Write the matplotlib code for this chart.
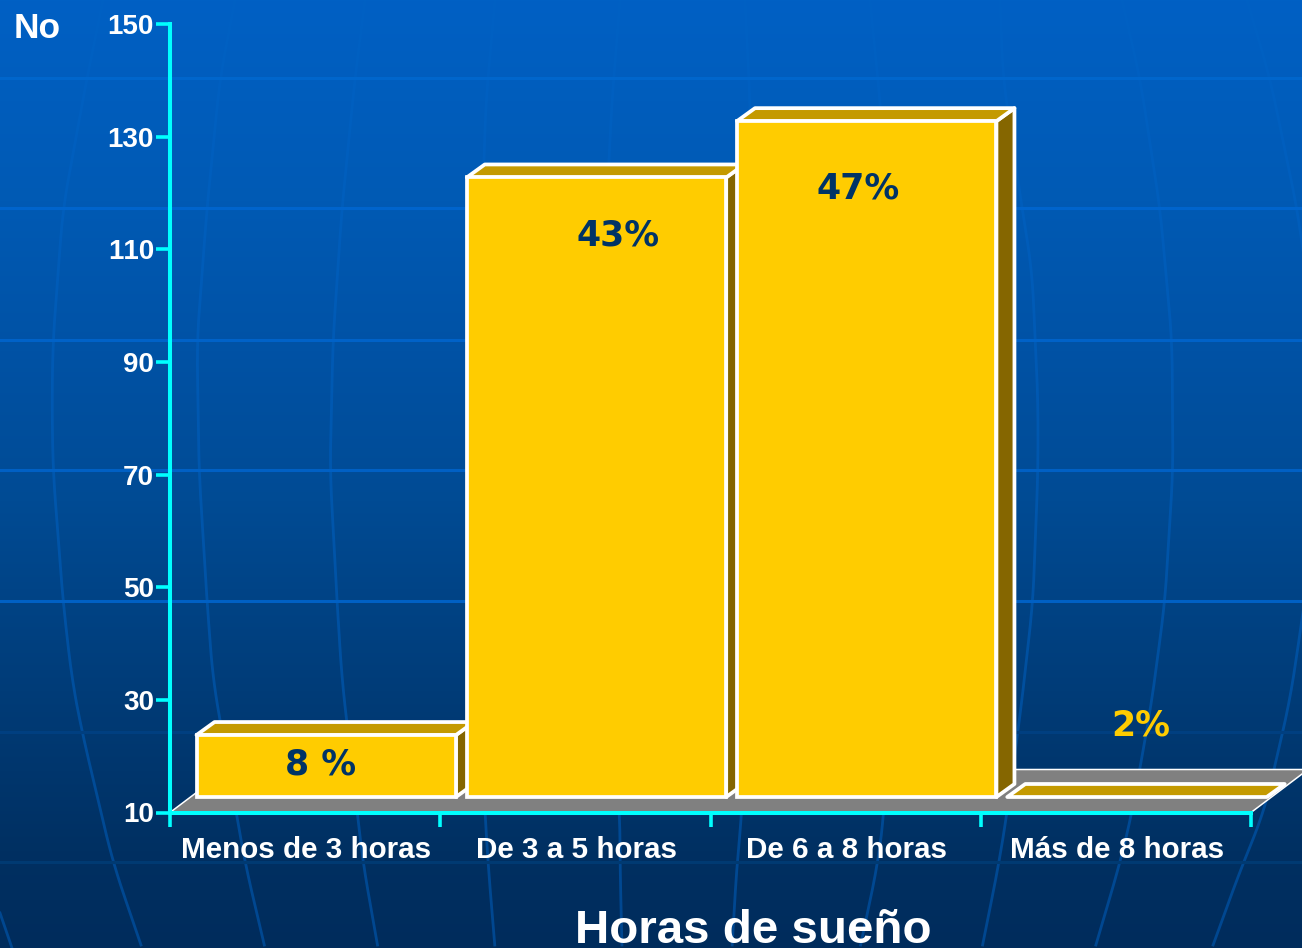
import numpy as np
import matplotlib
matplotlib.use("Agg")
import matplotlib.pyplot as plt
from matplotlib.patches import Polygon
from matplotlib.transforms import Affine2D

plt.rcParams["text.kerning_factor"] = 8

# ---- data ----
categories = ["Menos de 3 horas", "De 3 a 5 horas", "De 6 a 8 horas", "Más de 8 horas"]
counts = [21, 120, 130, 6]
percent_labels = ["8 %", "43%", "47%", "2%"]
y_ticks = [10, 30, 50, 70, 90, 110, 130, 150]

# ---- style / layout (pixels) ----
W, H = 1302, 948
AX_L, AX_R, AX_B, AX_T = 170, 1251, 812.5, 24
Y_MIN, Y_MAX = 10, 150
BAR_W = 0.96
BAR_DX, BAR_DY = 21.1, 15.5
DEPTH_X, DEPTH_Y = 18, 13
FLOOR_X, FLOOR_Y = 57, 43
label_px = [(15, -14), (43, -43), (12, -52), (25, 87)]
label_colors = ["#003366", "#003366", "#003366", "#ffcc00"]
label_size = [25, 25, 25, 25]

FACE, TOP, SIDE = "#ffcc00", "#c49a00", "#856600"
CYAN = "#00ffff"
SANS = ["Liberation Sans", "DejaVu Sans"]

fig = plt.figure(figsize=(W / 100, H / 100), dpi=100)

# ---- background ----
bg = fig.add_axes([0, 0, 1, 1], zorder=0)
bg.axis("off")
ys = np.arange(H)
stops_y = [0, 200, 350, 500, 690, 850, 948]
r = np.zeros(H)
g = np.interp(ys, stops_y, [96, 90, 82, 75, 60, 48, 44]) / 255
b = np.interp(ys, stops_y, [196, 180, 165, 148, 120, 98, 92]) / 255
bg.imshow(np.stack([r, g, b], axis=-1)[:, None, :], extent=(0, W, H, 0), aspect="auto", zorder=0)
bg.set_xlim(0, W)
bg.set_ylim(H, 0)

merid = [
    [(103, 0), (87, 78), (63, 208), (53, 340), (52, 400), (53, 470), (63, 601), (72, 680), (82, 732), (113, 863), (142, 948)],
    [(235, 0), (220, 78), (207, 208), (197, 340), (199, 470), (207, 601), (213, 680), (245, 863), (265, 948)],
    [(365, 0), (355, 78), (342, 208), (333, 340), (330, 470), (337, 601), (342, 680), (363, 863), (378, 948)],
    [(495, 0), (486, 100), (478, 340), (478, 470), (480, 700), (485, 813), (488, 863), (495, 948)],
    [(620, 0), (612, 100), (600, 340), (600, 470), (608, 700), (620, 813), (620, 863), (622, 948)],
    [(745, 0), (750, 100), (752, 340), (750, 500), (745, 700), (742, 813), (737, 863), (732, 948)],
    [(870, 0), (880, 100), (895, 340), (895, 470), (890, 700), (884, 813), (878, 863), (860, 948)],
    [(1000, 0), (1003, 78), (1022, 208), (1032, 270), (1038, 400), (1038, 470), (1033, 601), (1022, 700), (1007, 813), (999, 863), (982, 948)],
    [(1122, 0), (1140, 78), (1160, 208), (1172, 340), (1173, 470), (1165, 601), (1152, 700), (1132, 813), (1120, 863), (1095, 948)],
    [(1247, 0), (1270, 78), (1297, 208), (1310, 300), (1310, 560), (1302, 620), (1290, 700), (1264, 813), (1243, 863), (1212, 948)],
    [(0, 913), (12, 948)],
]


def smooth(points, win=13):
    """Soften a hand-traced background meridian."""
    px, py = map(np.array, zip(*points))
    yy = np.arange(py[0], py[-1] + 1, 5.0)
    xx = np.interp(yy, py, px)
    if len(xx) <= win:
        return xx, yy
    pad = win // 2
    k = np.ones(win) / win
    head = 2 * xx[0] - xx[pad:0:-1]
    tail = 2 * xx[-1] - xx[-2:-pad - 2:-1]
    return np.convolve(np.r_[head, xx, tail], k, mode="valid"), yy


for m in merid:
    mx, my = smooth(m)
    bg.plot(mx, my, color="#0062c4", alpha=0.5, lw=2.0, zorder=1, solid_joinstyle="round")
grid_y = [78, 208, 340, 470, 601, 732, 862]
grid_c = ["#0066cc", "#0064cc", "#0062c8", "#0060c4", "#0060c4", "#003f80", "#003a72"]
for gy, gc in zip(grid_y, grid_c):
    bg.plot([0, W], [gy, gy], color=gc, lw=2.2, zorder=2)

# ---- chart axes ----
ax = fig.add_axes([AX_L / W, (H - AX_B) / H, (AX_R - AX_L) / W, (AX_B - AX_T) / H], zorder=2)
ax.patch.set_alpha(0)
n = len(categories)
ax.set_xlim(0, n)
ax.set_ylim(Y_MIN, Y_MAX)
ppx = n / (AX_R - AX_L)
ppy = (Y_MAX - Y_MIN) / (AX_B - AX_T)

# floor
fdx, fdy = FLOOR_X * ppx, FLOOR_Y * ppy
floor_pts = [(0, Y_MIN), (n, Y_MIN), (n + fdx, Y_MIN + fdy), (fdx, Y_MIN + fdy)]
ax.add_patch(Polygon(floor_pts, closed=True, fc="#808080", ec="none", clip_on=False, zorder=1))
ax.plot([0, fdx, n + fdx, n], [Y_MIN, Y_MIN + fdy, Y_MIN + fdy, Y_MIN], color="white", lw=1.1, clip_on=False, zorder=1.5)

# bars
tr = ax.transData + Affine2D().translate(BAR_DX, BAR_DY)
ddx, ddy = DEPTH_X * ppx, DEPTH_Y * ppy
LW = 2.7
EDGE = dict(ec="white", lw=LW, joinstyle="round", clip_on=False)
for i, v in enumerate(counts):
    top = max(v, Y_MIN)
    x0, x1 = i + 0.5 - BAR_W / 2, i + 0.5 + BAR_W / 2
    z = 3 + i
    ax.add_patch(Polygon([(x1, Y_MIN), (x1 + ddx, Y_MIN + ddy), (x1 + ddx, top + ddy), (x1, top)],
                         closed=True, fc=SIDE, transform=tr, zorder=z, **EDGE))
    ax.add_patch(Polygon([(x0, top), (x1, top), (x1 + ddx, top + ddy), (x0 + ddx, top + ddy)],
                         closed=True, fc=TOP, transform=tr, zorder=z, **EDGE))
    if top > Y_MIN:
        ax.bar(i + 0.5, top - Y_MIN, BAR_W, bottom=Y_MIN, color=FACE, edgecolor="white", linewidth=LW,
               transform=tr, zorder=z + 0.1, clip_on=False)
    ox, oy = label_px[i]
    ax.annotate(percent_labels[i], xy=(i + 0.5, top), xytext=(ox * 0.72, oy * 0.72), textcoords="offset points",
                ha="center", va="center", family="DejaVu Sans", fontweight="bold", fontsize=label_size[i],
                color=label_colors[i], zorder=10, annotation_clip=False)
ax.set_xlim(0, n)
ax.set_ylim(Y_MIN, Y_MAX)

# axes cosmetics
for s in ("top", "right"):
    ax.spines[s].set_visible(False)
for s in ("left", "bottom"):
    ax.spines[s].set_color(CYAN)
    ax.spines[s].set_linewidth(2.9)
    ax.spines[s].set_zorder(8)
ax.set_yticks(y_ticks)
ax.set_yticklabels([str(t) for t in y_ticks], family=SANS, fontweight="bold", fontsize=20, color="white")
ax.set_xticks(range(n + 1))
ax.set_xticklabels([""] * (n + 1))
ax.tick_params(axis="both", length=10, width=2.6, color=CYAN)
ax.tick_params(axis="y", pad=1.5)
for i, c in enumerate(categories):
    ax.annotate(c, xy=(i + 0.5, Y_MIN), xytext=(0.7, -37.5 * 0.72), textcoords="offset points",
                ha="center", va="center", family=SANS, fontweight="bold", fontsize=21.3, color="white",
                annotation_clip=False)

fig.text(37 / W, 1 - 29 / H, "No", ha="center", va="center", family=SANS, fontweight="bold", fontsize=25.5, color="white", zorder=5)
fig.text(753.5 / W, 1 - 943 / H, "Horas de sueño", ha="center", va="baseline", family=SANS, fontweight="bold", fontsize=34.2, color="white", zorder=5)

fig.savefig("out.png", dpi=100)
